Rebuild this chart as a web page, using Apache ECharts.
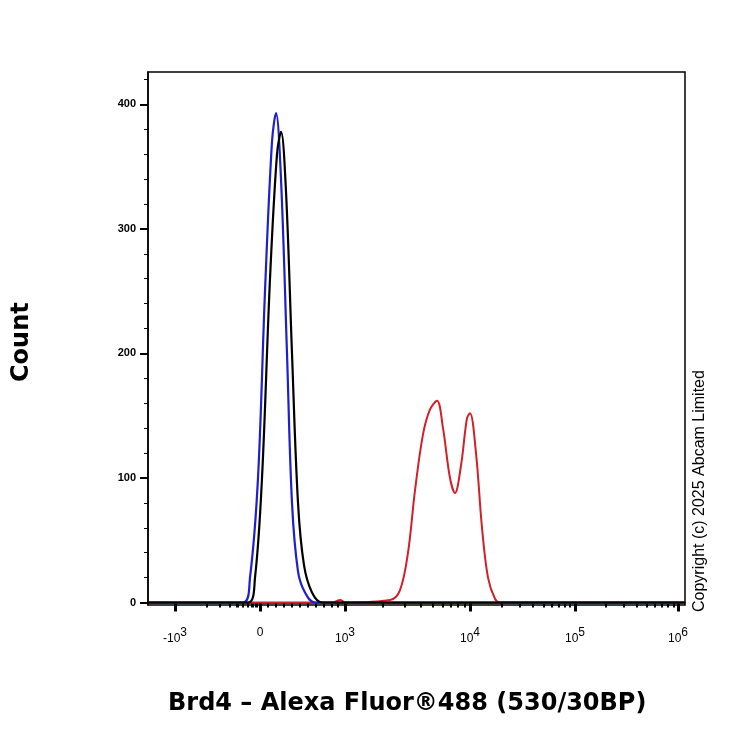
<!DOCTYPE html>
<html><head><meta charset="utf-8">
<script src="https://cdn.jsdelivr.net/npm/echarts@6/dist/echarts.min.js"></script>
<style>html,body{margin:0;padding:0;background:#fff}#c{width:750px;height:750px}</style>
</head><body><div id="c"></div>
<script>
// x in display units (biexponential scale, 0..537)
var tickPos = [27, 112, 197, 322, 427, 530];
var tickLabels = ['-10{s|3}', '0', '10{s|3}', '10{s|4}', '10{s|5}', '10{s|6}'];
var yTicks = [0, 100, 200, 300, 400];
var yMinor = [20,40,60,80,120,140,160,180,220,240,260,280,320,340,360,380,420];
var blue = [[0,0],[95,0],[102,20],[110,100],[117,250],[124,370],[128,393],[133,340],[139,200],[144,80],[150,25],[157,8],[167,0],[537,0]];
var black = [[0,0],[100,0],[107,20],[114,100],[122,260],[129,360],[133,378],[138,330],[144,200],[150,80],[156,30],[164,8],[174,0],[537,0]];
var red = [[0,0],[185,0],[192,2],[198,0],[242,2],[252,10],[260,40],[267,90],[275,135],[282,155],[289,162],[295,140],[302,100],[307,88],[313,110],[319,148],[322,152],[328,120],[334,60],[340,20],[347,3],[352,0],[537,0]];

var minor = [];
for (var k = 2; k < 5; k++) {
  for (var m = 2; m < 10; m++) minor.push(tickPos[k] + Math.log10(m) * (tickPos[k+1] - tickPos[k]));
}
for (var m = 2; m < 10; m++) minor.push(tickPos[1] - (1 - Math.log10(m)) * (tickPos[1] - tickPos[0]) * 0.9);
[90,95,100,104,108,120,128,136,144,152,160,168,176,184,190].forEach(function(v){minor.push(v);});

var chart = echarts.init(document.getElementById('c'));
chart.setOption({
  animation: false,
  grid: {left: 148, right: 65, top: 72, bottom: 145, show: true, borderColor: '#000', borderWidth: 1.5},
  graphic: [
    {type: 'text', x: 10, y: 382, rotation: Math.PI / 2,
     style: {text: 'Count', font: 'bold 24px DejaVu Sans', fill: '#000'}},
    {type: 'text', x: 692, y: 612, rotation: Math.PI / 2,
     style: {text: 'Copyright (c) 2025 Abcam Limited', font: '16px Liberation Sans', fill: '#000'}},
    {type: 'text', x: 168, y: 692,
     style: {text: 'Brd4 \u2013 Alexa Fluor\u00ae488 (530/30BP)', font: 'bold 24px DejaVu Sans', fill: '#000'}}
  ],
  xAxis: [{
    type: 'value', min: 0, max: 537, splitLine: {show: false},
    axisLine: {lineStyle: {color: '#000', width: 1.5}},
    axisTick: {customValues: tickPos, length: 9, lineStyle: {color: '#000', width: 3}},
    axisLabel: {customValues: tickPos, margin: 22, fontSize: 12, fontFamily: 'Liberation Sans', color: '#000',
      formatter: function (v) { var i = tickPos.indexOf(v); return i < 0 ? '' : tickLabels[i]; },
      rich: {s: {fontSize: 12, verticalAlign: 'top', padding: [0, 0, 12, 0], color: '#000'}}}
  }, {
    type: 'value', min: 0, max: 537, position: 'bottom', splitLine: {show: false},
    axisLine: {show: false}, axisLabel: {show: false},
    axisTick: {customValues: minor, length: 5, lineStyle: {color: '#000', width: 2}}
  }],
  yAxis: [{
    type: 'value', min: -2, max: 426, splitLine: {show: false},
    axisLine: {show: true, lineStyle: {color: '#000', width: 1.5}},
    axisTick: {show: true, customValues: yTicks, length: 8, lineStyle: {color: '#000', width: 2}},
    axisLabel: {customValues: yTicks, fontSize: 11, margin: 12,
      fontFamily: 'Liberation Sans', fontWeight: 'bold', color: '#000'}
  }, {
    type: 'value', min: -2, max: 426, position: 'left', splitLine: {show: false},
    axisLine: {show: false}, axisLabel: {show: false},
    axisTick: {show: true, customValues: yMinor, length: 4, lineStyle: {color: '#000', width: 1}}
  }],
  series: [
    {type: 'line', data: red, smooth: 0.35, symbol: 'none', lineStyle: {color: '#d0202a', width: 2}},
    {type: 'line', data: blue, smooth: 0.35, symbol: 'none', lineStyle: {color: '#1f1fd0', width: 2.2}},
    {type: 'line', data: black, smooth: 0.35, symbol: 'none', lineStyle: {color: '#000', width: 2.2}}
  ]
});
</script></body></html>
